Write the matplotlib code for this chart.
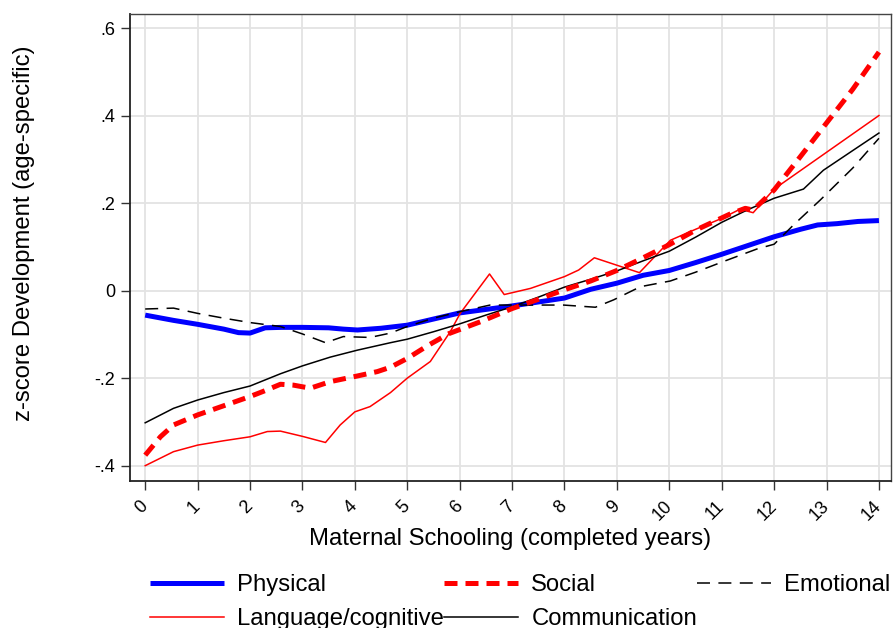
#!/usr/bin/env python3
"""Child development z-scores by years of maternal schooling."""

import matplotlib

matplotlib.use("Agg")
import matplotlib.pyplot as plt

plt.rcParams["font.family"] = ["Liberation Sans", "DejaVu Sans"]

# smoothed z-scores by completed years of maternal schooling
physical_x = [0, 0.54, 1.0, 1.5, 1.78, 2.0, 2.29, 2.6, 3.0, 3.5, 3.78, 4.05, 4.5,
              5.0, 5.5, 6.0, 6.5, 7.0, 7.5, 8.0, 8.5, 9.0, 9.5, 10.0, 10.5, 11.0,
              11.5, 12.0, 12.5, 12.83, 13.2, 13.6, 14.0]
physical_y = [-0.056, -0.068, -0.077, -0.088, -0.096, -0.097, -0.085, -0.084, -0.084,
              -0.085, -0.088, -0.090, -0.086, -0.079, -0.065, -0.051, -0.043, -0.035,
              -0.026, -0.017, 0.003, 0.017, 0.035, 0.046, 0.064, 0.083, 0.103, 0.123,
              0.140, 0.150, 0.153, 0.158, 0.160]

social_x = [0, 0.29, 0.54, 1.0, 1.5, 2.0, 2.3, 2.58, 2.83, 3.15, 3.53, 4.05, 4.43,
            4.68, 5.0, 5.4, 5.8, 6.4, 7.0, 7.5, 8.0, 8.5, 9.0, 9.45, 10.0, 10.5,
            11.16, 11.45, 11.6, 12.0, 12.5, 13.0, 13.5, 14.0]
social_y = [-0.376, -0.334, -0.307, -0.284, -0.263, -0.242, -0.228, -0.214, -0.216,
            -0.223, -0.208, -0.195, -0.185, -0.175, -0.155, -0.125, -0.098, -0.071,
            -0.041, -0.020, 0.002, 0.022, 0.046, 0.072, 0.105, 0.138, 0.175, 0.188,
            0.184, 0.230, 0.306, 0.383, 0.460, 0.545]

language_x = [0, 0.54, 1.0, 1.5, 2.0, 2.33, 2.58, 3.0, 3.44, 3.72, 4.0, 4.29, 4.68,
              5.0, 5.44, 5.82, 6.01, 6.57, 6.85, 7.35, 8.0, 8.27, 8.57, 9.43, 10.02,
              10.5, 11.0, 11.35, 11.6, 12.0, 14.0]
language_y = [-0.400, -0.368, -0.353, -0.343, -0.334, -0.322, -0.321, -0.333, -0.347,
              -0.307, -0.277, -0.265, -0.233, -0.200, -0.162, -0.094, -0.052, 0.038,
              -0.009, 0.005, 0.032, 0.047, 0.075, 0.041, 0.115, 0.140, 0.165, 0.186,
              0.178, 0.232, 0.400]

communication_x = [0, 0.54, 1.0, 1.5, 2.0, 2.58, 3.0, 3.53, 4.05, 4.68, 5.0, 5.5, 6.0,
                   6.5, 7.0, 7.5, 8.0, 8.5, 9.0, 9.5, 10.0, 10.5, 11.0, 11.5, 12.0,
                   12.56, 12.94, 13.5, 14.0]
communication_y = [-0.302, -0.269, -0.250, -0.233, -0.218, -0.190, -0.172, -0.152,
                   -0.136, -0.119, -0.111, -0.094, -0.076, -0.056, -0.037, -0.015,
                   0.008, 0.026, 0.045, 0.068, 0.090, 0.122, 0.156, 0.185, 0.211,
                   0.232, 0.275, 0.320, 0.360]

emotional_x = [0, 0.54, 1.0, 1.5, 2.0, 2.58, 3.0, 3.44, 3.78, 4.29, 4.68, 5.0, 5.5,
               6.01, 6.58, 7.35, 7.98, 8.59, 8.94, 9.45, 10.02, 10.5, 11.0, 11.67,
               12.0, 12.37, 12.88, 13.5, 14.0]
emotional_y = [-0.042, -0.040, -0.052, -0.063, -0.073, -0.082, -0.099, -0.119, -0.105,
               -0.107, -0.097, -0.082, -0.063, -0.048, -0.033, -0.033, -0.033, -0.038,
               -0.021, 0.009, 0.022, 0.042, 0.065, 0.095, 0.106, 0.150, 0.207, 0.280,
               0.348]

x_ticks = list(range(0, 15))
y_ticks = [-0.4, -0.2, 0.0, 0.2, 0.4, 0.6]
y_tick_labels = ["-.4", "-.2", "0", ".2", ".4", ".6"]

fig = plt.figure(figsize=(8.93, 6.28), dpi=100)
ax = fig.add_axes([130 / 893, 1 - 481 / 628, 761 / 893, 467 / 628])

h_phys, = ax.plot(physical_x, physical_y, color="#0000ff", lw=3.6,
                  solid_capstyle="butt", label="Physical", zorder=3)
h_lang, = ax.plot(language_x, language_y, color="#ff0000", lw=1.1,
                  label="Language/cognitive", zorder=4)
h_soc, = ax.plot(social_x, social_y, color="#ff0000", lw=3.6, dashes=(2.6, 1.6),
                 dash_capstyle="butt", label="Social", zorder=5)
h_comm, = ax.plot(communication_x, communication_y, color="black", lw=1.1,
                  label="Communication", zorder=4)
h_emo, = ax.plot(emotional_x, emotional_y, color="black", lw=1.1, dashes=(8.5, 5.5),
                 label="Emotional", zorder=4)

ax.set_xlim(-0.29, 14.23)
ax.set_ylim(-0.435, 0.632)
ax.set_xticks(x_ticks)
ax.set_xticklabels([str(t) for t in x_ticks], rotation=45, ha="right",
                   va="center", rotation_mode="anchor")
ax.set_yticks(y_ticks)
ax.set_yticklabels(y_tick_labels)
ax.tick_params(axis="both", labelsize=13, length=6.5, width=1.0, color="#333333",
               pad=4)
ax.tick_params(axis="x", pad=10)

ax.grid(True, color="#e3e3e3", lw=1.3)
ax.set_axisbelow(True)
for side in ("left", "bottom"):
    ax.spines[side].set_linewidth(1.3)
    ax.spines[side].set_color("#222222")
for side in ("top", "right"):
    ax.spines[side].set_linewidth(1.0)
    ax.spines[side].set_color("#444444")

ax.set_xlabel("Maternal Schooling (completed years)", fontsize=17.2)
ax.xaxis.set_label_coords(0.5, -0.1)
ax.set_ylabel("z-score Development (age-specific)", fontsize=17.2)
ax.yaxis.set_label_coords(-0.125, 0.53)

fig.legend(
    handles=[h_phys, h_lang, h_soc, h_comm, h_emo],
    ncol=3,
    loc="upper left",
    bbox_to_anchor=(150 / 893, 1 - 574 / 628),
    frameon=False,
    fontsize=17.2,
    handlelength=3.1,
    handletextpad=0.55,
    columnspacing=0.0,
    labelspacing=0.5,
    borderpad=0.0,
    borderaxespad=0.0,
)

fig.savefig("out.png", dpi=100)
